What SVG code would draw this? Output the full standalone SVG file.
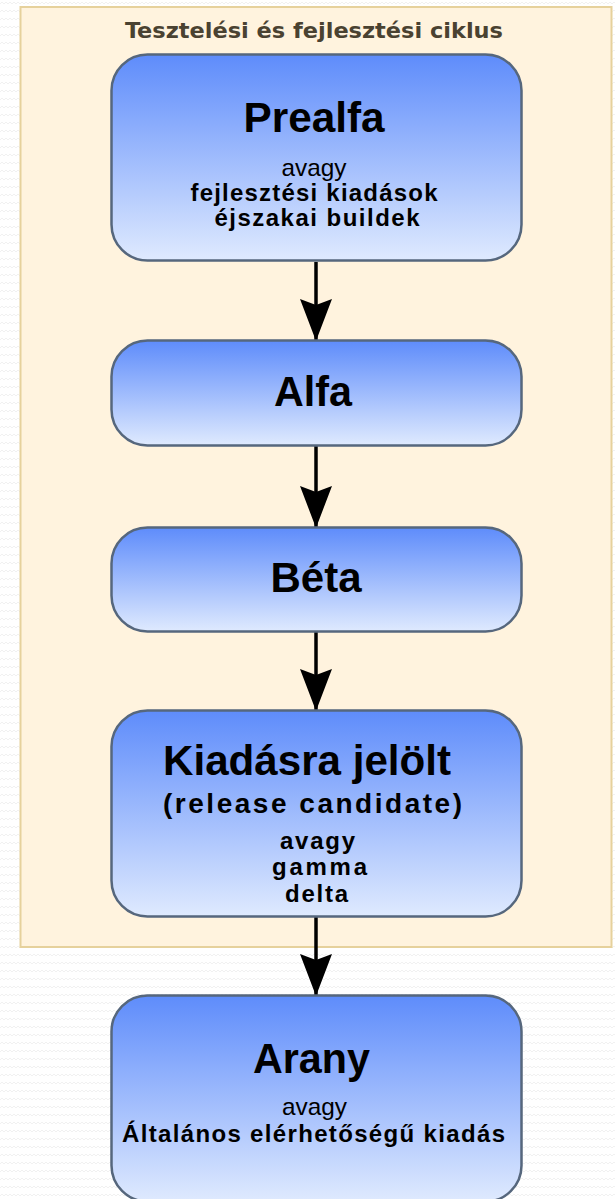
<svg xmlns="http://www.w3.org/2000/svg" width="615" height="1199" viewBox="0 0 615 1199">
<defs>
<linearGradient id="g" x1="0" y1="0" x2="0" y2="1">
<stop offset="0" stop-color="#5e8cfb"/>
<stop offset="1" stop-color="#dfeafe"/>
</linearGradient>
<marker id="ah" markerUnits="userSpaceOnUse" markerWidth="44" markerHeight="34" refX="43" refY="17" orient="auto" viewBox="0 0 44 34">
<path d="M43,17 L1,1 L7,17 L1,33 Z" fill="#000"/>
</marker>
<pattern id="bg" width="8" height="8" patternUnits="userSpaceOnUse">
<rect width="8" height="8" fill="#ffffff"/>
<path d="M0,4 L2,2 L4,4 L6,2 L8,4" fill="none" stroke="#f1f1f1" stroke-width="1"/>
</pattern>
</defs>
<style>
.box{fill:url(#g);stroke:#56677d;stroke-width:2.5}
.t{font-family:"Liberation Sans",Arial,sans-serif;fill:#000;text-anchor:middle}
.b{font-weight:bold}
.big{font-size:42px}
.mid{font-size:24px}
.sm{font-size:24px}
.conn{stroke:#000;stroke-width:3.5;fill:none;marker-end:url(#ah)}
</style>
<rect x="0" y="0" width="615" height="1199" fill="url(#bg)"/>
<g id="panel">
<rect x="20.5" y="7" width="591" height="940" fill="#fff3de" stroke="#e6d19c" stroke-width="2"/>
<text x="314" y="38" font-family="'DejaVu Sans Condensed','Liberation Sans',sans-serif" font-weight="bold" font-size="21" fill="#4a4231" text-anchor="middle" textLength="378" lengthAdjust="spacingAndGlyphs">Tesztelési és fejlesztési ciklus</text>
</g>
<g id="connectors">
<line class="conn" x1="316" y1="262" x2="316" y2="341"/>
<line class="conn" x1="316" y1="446" x2="316" y2="528"/>
<line class="conn" x1="316" y1="632" x2="316" y2="711"/>
<line class="conn" x1="316" y1="917" x2="316" y2="996"/>
</g>
<g id="prealfa">
<rect class="box" x="111.5" y="54.5" width="410" height="206" rx="36" ry="36"/>
<text class="t b big" x="314" y="132" textLength="141" lengthAdjust="spacingAndGlyphs">Prealfa</text>
<text class="t mid" x="314" y="176" textLength="65" lengthAdjust="spacingAndGlyphs">avagy</text>
<text class="t b sm" x="314" y="201" textLength="247" lengthAdjust="spacing">fejlesztési kiadások</text>
<text class="t b sm" x="317" y="226" textLength="205" lengthAdjust="spacing">éjszakai buildek</text>
</g>
<g id="alfa">
<rect class="box" x="111.5" y="340.5" width="410" height="105" rx="36" ry="36"/>
<text class="t b big" x="313" y="406" textLength="78" lengthAdjust="spacingAndGlyphs">Alfa</text>
</g>
<g id="beta">
<rect class="box" x="111.5" y="527.5" width="410" height="104" rx="36" ry="36"/>
<text class="t b big" x="316" y="592">Béta</text>
</g>
<g id="rc">
<rect class="box" x="111.5" y="710.5" width="410" height="206" rx="36" ry="36"/>
<text class="t b big" x="307" y="775" textLength="288" lengthAdjust="spacingAndGlyphs">Kiadásra jelölt</text>
<text class="t b" font-size="28" x="312.5" y="813" textLength="299" lengthAdjust="spacing">(release candidate)</text>
<text class="t b sm" x="317.5" y="849" textLength="75" lengthAdjust="spacing">avagy</text>
<text class="t b sm" x="319.5" y="875" textLength="95" lengthAdjust="spacing">gamma</text>
<text class="t b sm" x="316.5" y="902" textLength="63" lengthAdjust="spacing">delta</text>
</g>
<g id="arany">
<rect class="box" x="111.5" y="995.5" width="410" height="206" rx="36" ry="36"/>
<text class="t b big" x="311.5" y="1073" textLength="117" lengthAdjust="spacingAndGlyphs">Arany</text>
<text class="t mid" x="314.5" y="1115" textLength="65" lengthAdjust="spacingAndGlyphs">avagy</text>
<text class="t b sm" x="313.5" y="1142" textLength="383" lengthAdjust="spacing">Általános elérhetőségű kiadás</text>
</g>
</svg>
